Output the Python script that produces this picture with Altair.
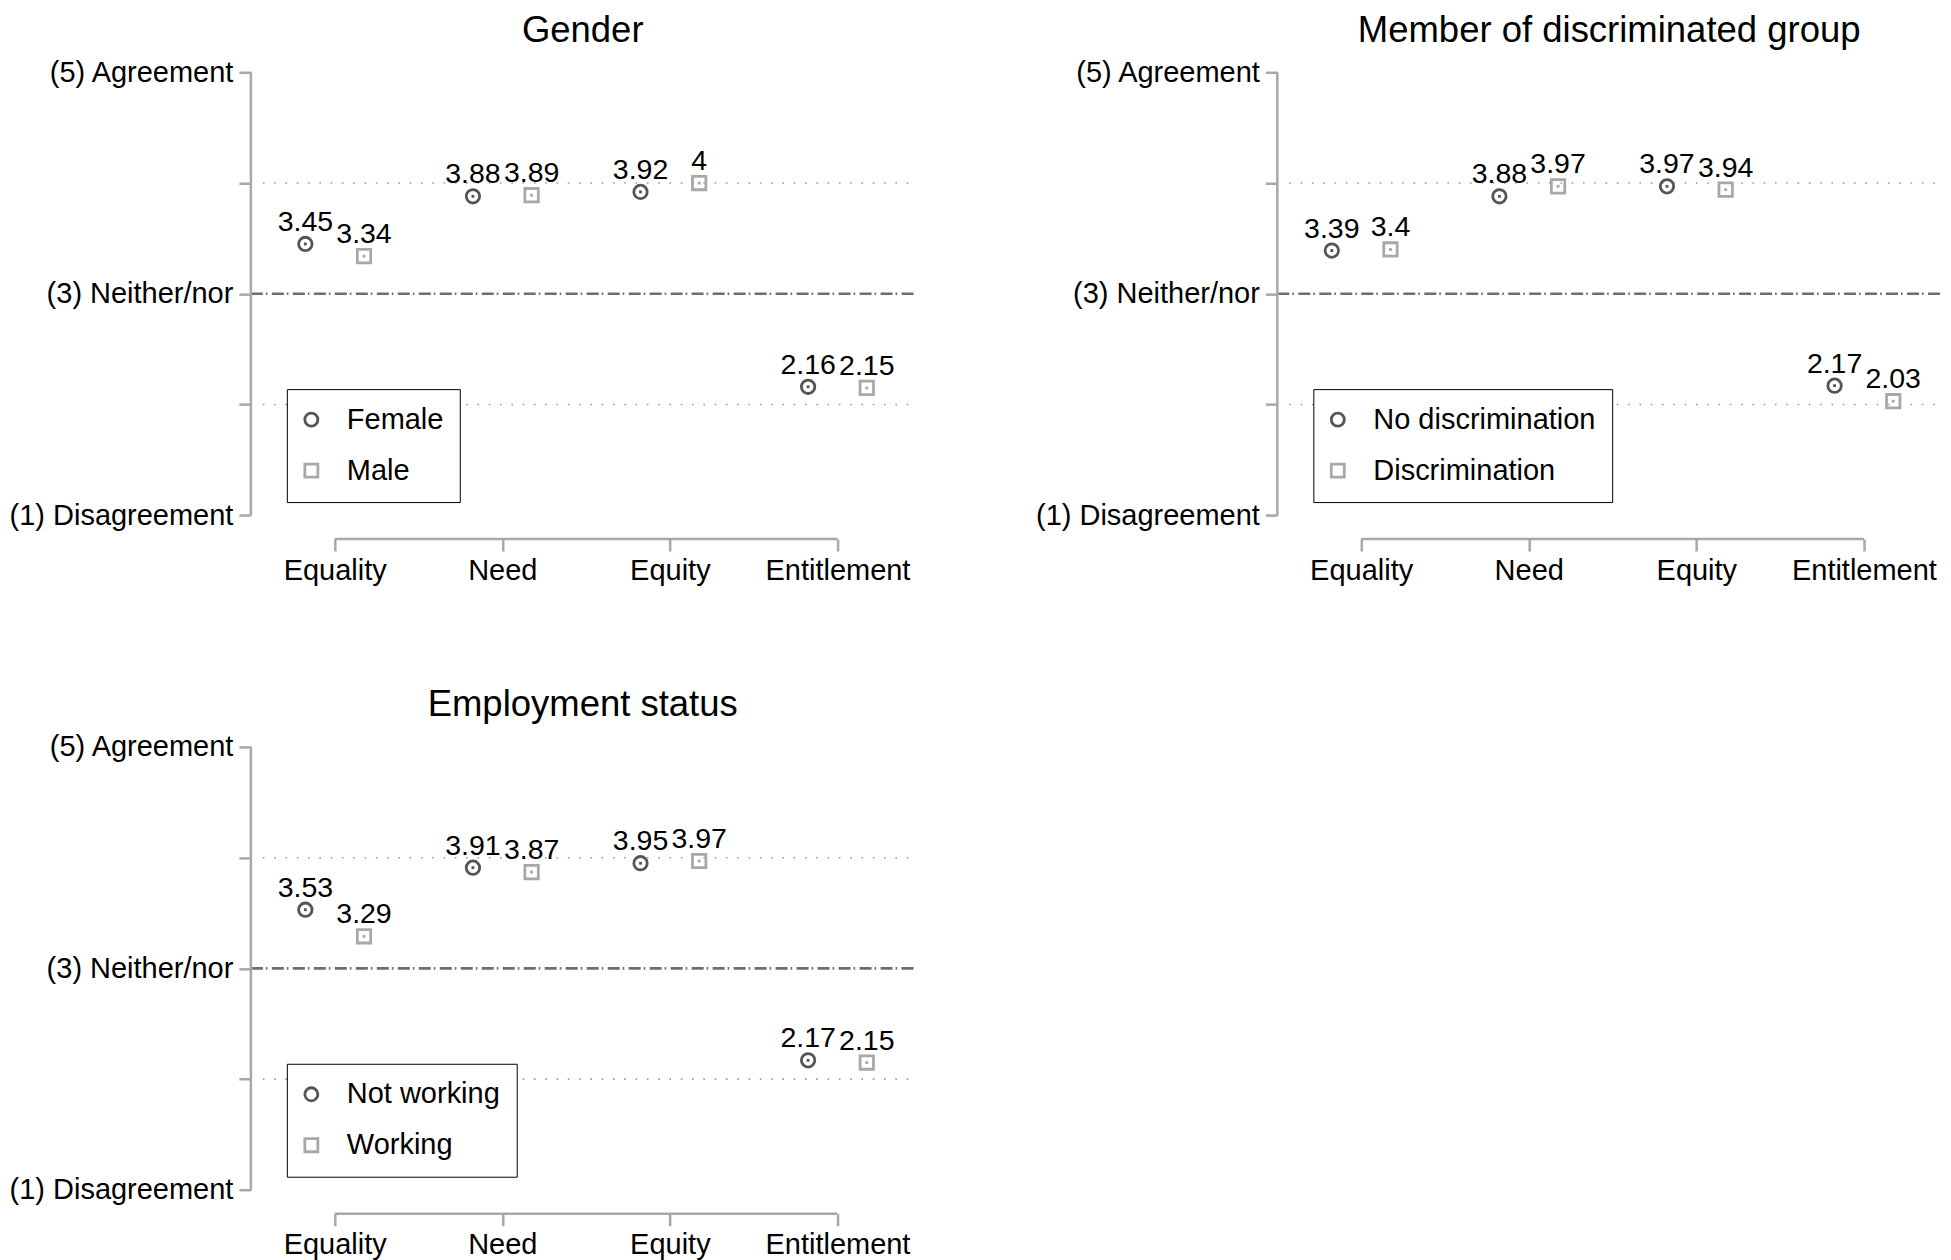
import altair as alt
import pandas as pd

# ---------------- data ----------------
CATEGORIES = ["Equality", "Need", "Equity", "Entitlement"]

GENDER_TITLE = "Gender"
GENDER_GROUPS = ["Female", "Male"]
GENDER_A = [3.45, 3.88, 3.92, 2.16]
GENDER_B = [3.34, 3.89, 4.00, 2.15]

DISC_TITLE = "Member of discriminated group"
DISC_GROUPS = ["No discrimination", "Discrimination"]
DISC_A = [3.39, 3.88, 3.97, 2.17]
DISC_B = [3.40, 3.97, 3.94, 2.03]

EMP_TITLE = "Employment status"
EMP_GROUPS = ["Not working", "Working"]
EMP_A = [3.53, 3.91, 3.95, 2.17]
EMP_B = [3.29, 3.87, 3.97, 2.15]

Y_TICKS = [1, 2, 3, 4, 5]
Y_TICK_LABELS = {5: "(5) Agreement", 3: "(3) Neither/nor", 1: "(1) Disagreement"}
DOTTED_LEVELS = [4, 2]
MID_LEVEL = [3]

# ---------------- style ----------------
FONT = "Liberation Sans"
COLORS = ["#555555", "#a8a8a8"]
SHAPES = ["circle", "square"]
AXIS_GRAY = "#a8a8a8"
XS = alt.Scale(domain=[0.5, 4.46], nice=False, zero=False)
YS = alt.Scale(domain=[0.785, 5], nice=False, zero=False)
W, H = 664, 467
OFFSET = 0.175

y_label_expr = " : ".join(
    f"datum.value == {k} ? '{v}'" for k, v in Y_TICK_LABELS.items()
) + " : ''"
x_label_expr = "[" + ",".join(f"'{c}'" for c in CATEGORIES) + "][datum.value - 1]"

Y_AXIS = alt.Axis(values=Y_TICKS, labelExpr=y_label_expr, domain=False, grid=False,
                  tickSize=12, tickWidth=2.5, tickColor=AXIS_GRAY, labelFontSize=29,
                  labelFont=FONT, labelColor="black", labelPadding=6, title=None,
                  labelOverlap=False, labelFlush=False, labelLimit=500)
X_AXIS = alt.Axis(values=list(range(1, len(CATEGORIES) + 1)), labelExpr=x_label_expr,
                  domain=False, grid=False, tickSize=12, tickWidth=2.5,
                  tickColor=AXIS_GRAY, labelFontSize=29, labelFont=FONT,
                  labelColor="black", labelPadding=5, title=None,
                  labelOverlap=False, labelFlush=False, labelLimit=500)


def panel(title, groups, a, b):
    rows = []
    for i, cat in enumerate(CATEGORIES):
        rows.append({"cat": cat, "idx": i + 1, "group": groups[0], "gi": 0, "value": a[i]})
        rows.append({"cat": cat, "idx": i + 1, "group": groups[1], "gi": 1, "value": b[i]})
    df = pd.DataFrame(rows)

    dotted = alt.Chart(pd.DataFrame({"y": DOTTED_LEVELS})).mark_rule(
        color="#9a9a9a", strokeWidth=1.6, strokeDash=[1.6, 9.7]
    ).encode(y=alt.Y("y:Q", scale=YS, axis=Y_AXIS), x=alt.value(12), x2=alt.value("width"))

    mid = alt.Chart(pd.DataFrame({"y": MID_LEVEL})).mark_rule(
        color="#6e6e6e", strokeWidth=2.6, strokeDash=[12, 3, 1.6, 4.4]
    ).encode(y=alt.Y("y:Q", scale=YS, axis=Y_AXIS), x=alt.value(0), x2=alt.value("width"))

    yline = alt.Chart(pd.DataFrame({"y1": [Y_TICKS[0]], "y2": [Y_TICKS[-1]]})).mark_rule(
        color=AXIS_GRAY, strokeWidth=2.5
    ).encode(y=alt.Y("y1:Q", scale=YS, axis=Y_AXIS), y2="y2:Q", x=alt.value(0))

    xline = alt.Chart(pd.DataFrame({"x1": [1], "x2": [len(CATEGORIES)]})).mark_rule(
        color=AXIS_GRAY, strokeWidth=2.5
    ).encode(x=alt.X("x1:Q", scale=XS, axis=X_AXIS), x2="x2:Q", y=alt.value(H))

    base = alt.Chart(df).transform_calculate(
        pos=f"datum.idx + (datum.gi == 0 ? -{OFFSET} : {OFFSET})"
    )

    legend = alt.Legend(
        title=None, orient="none", legendX=36, legendY=317, direction="vertical",
        strokeColor="black", fillColor="white", padding=16, rowPadding=21,
        labelFontSize=29, labelFont=FONT, labelColor="black", labelOffset=21,
        symbolSize=170, symbolStrokeWidth=2.8, labelLimit=400, symbolOffset=-6,
        symbolFillColor="transparent",
    )

    pts = base.mark_point(filled=False, size=180, strokeWidth=2.8, opacity=1).encode(
        x=alt.X("pos:Q", scale=XS, axis=X_AXIS),
        y=alt.Y("value:Q", scale=YS, axis=Y_AXIS),
        color=alt.Color("group:N", scale=alt.Scale(domain=groups, range=COLORS), legend=legend),
        shape=alt.Shape("group:N", scale=alt.Scale(domain=groups, range=SHAPES), legend=legend),
    )

    dots = [
        base.transform_filter(f"datum.gi == {k}").mark_square(
            size=8, opacity=1, color=COLORS[k]
        ).encode(
            x=alt.X("pos:Q", scale=XS, axis=X_AXIS),
            y=alt.Y("value:Q", scale=YS, axis=Y_AXIS),
        )
        for k in range(2)
    ]

    labels = base.mark_text(dy=-13, baseline="alphabetic", align="center", fontSize=28.5,
                            font=FONT, color="black").encode(
        x=alt.X("pos:Q", scale=XS, axis=X_AXIS),
        y=alt.Y("value:Q", scale=YS, axis=Y_AXIS),
        text=alt.Text("value:Q", format=".3~g"),
    )

    return alt.layer(dotted, mid, yline, xline, pts, *dots, labels).properties(
        width=W, height=H,
        title=alt.TitleParams(text=title, fontSize=36.5, font=FONT, fontWeight="normal",
                              anchor="middle", frame="group", baseline="alphabetic",
                              offset=-20, color="black"),
    )


p1 = panel(GENDER_TITLE, GENDER_GROUPS, GENDER_A, GENDER_B)
p2 = panel(DISC_TITLE, DISC_GROUPS, DISC_A, DISC_B)
p3 = panel(EMP_TITLE, EMP_GROUPS, EMP_A, EMP_B)

top = alt.hconcat(p1, p2, spacing=118).resolve_scale(
    color="independent", shape="independent")
chart = alt.vconcat(top, p3, spacing=102).resolve_scale(
    color="independent", shape="independent"
).properties(
    padding={"left": 0, "top": 4, "right": 0, "bottom": 0}, background="white"
).configure_view(stroke=None)

chart.save("out.html", embed_options={"renderer": "svg", "actions": False})
